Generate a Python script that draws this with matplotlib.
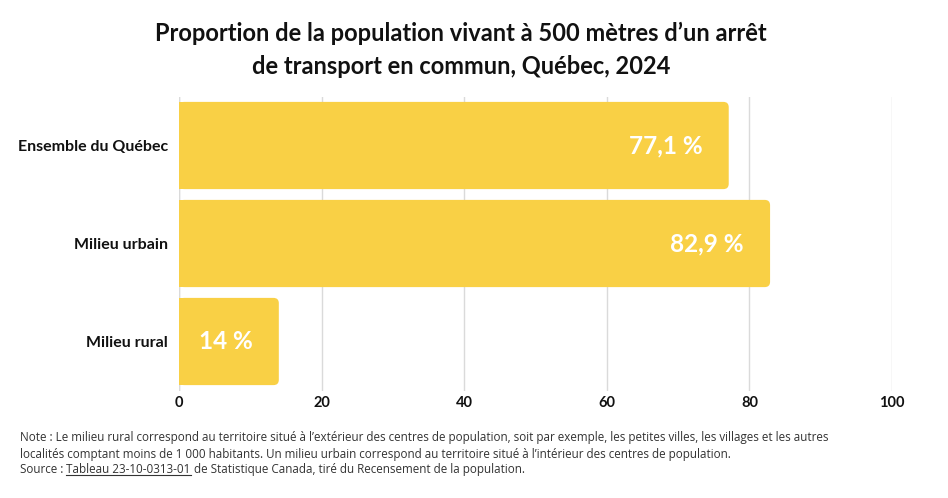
import numpy as np
import matplotlib
matplotlib.use("Agg")
import matplotlib.pyplot as plt
from matplotlib.patches import FancyBboxPatch, Rectangle
from matplotlib.lines import Line2D

categories = ["Ensemble du Québec", "Milieu urbain", "Milieu rural"]
values = [77.1, 82.9, 14.0]
value_labels = ["77,1 %", "82,9 %", "14 %"]
x_ticks = [0, 20, 40, 60, 80, 100]

title = "Proportion de la population vivant à 500 mètres d’un arrêt\nde transport en commun, Québec, 2024"
note_lines = [
    "Note : Le milieu rural correspond au territoire situé à l’extérieur des centres de population, soit par exemple, les petites villes, les villages et les autres",
    "localités comptant moins de 1 000 habitants. Un milieu urbain correspond au territoire situé à l’intérieur des centres de population.",
]
source_pre = "Source : "
source_link = "Tableau 23-10-0313-01"
source_post = " de Statistique Canada, tiré du Recensement de la population."

bar_color = "#F9D045"
grid_color = "#DADADA"
text_color = "#111111"
note_color = "#333333"

fig = plt.figure(figsize=(9.48, 4.98), dpi=100)
ax = fig.add_axes([179 / 948, 1 - 390.5 / 498, (892 - 179) / 948, (390.5 - 96.5) / 498])

y = np.arange(len(categories))
bar_h = 0.89
bars = ax.barh(y, values, height=bar_h, color=bar_color, alpha=0)

# rounded right corners, square left
for b in bars:
    x0, y0, w, h = b.get_x(), b.get_y(), b.get_width(), b.get_height()
    r = 0.75
    ax.add_patch(FancyBboxPatch((x0, y0), w, h,
                                boxstyle=f"round,pad=0,rounding_size={r}",
                                mutation_aspect=0.072, facecolor=bar_color,
                                edgecolor="none", zorder=2))
    ax.add_patch(Rectangle((x0, y0), min(2, w), h, facecolor=bar_color,
                           edgecolor="none", zorder=2))

for i, (v, lab) in enumerate(zip(values, value_labels)):
    ax.text(v - 3.7, y[i], lab, ha="right", va="center", color="white",
            fontsize=17.5, fontweight="bold", family="Lato", zorder=3)

ax.set_xlim(0, 100)
ax.set_ylim(len(categories) - 0.5, -0.5)
ax.set_xticks(x_ticks)
ax.set_yticks(y)
ax.set_yticklabels(categories)
ax.xaxis.grid(True, color=grid_color, linewidth=1)
ax.set_axisbelow(True)
ax.axvline(0, color=grid_color, linewidth=1, zorder=1)
for s in ax.spines.values():
    s.set_visible(False)
ax.tick_params(axis="both", length=0)
ax.tick_params(axis="y", pad=8)
ax.tick_params(axis="x", pad=4)
for t in ax.get_xticklabels() + ax.get_yticklabels():
    t.set_fontweight("bold")
    t.set_family("Lato")
    t.set_color(text_color)
for t in ax.get_yticklabels():
    t.set_fontsize(11.5)
for t in ax.get_xticklabels():
    t.set_fontsize(10.5)

fig.text(461 / 948, 1 - 50 / 498, title, ha="center", va="center",
         fontsize=17, fontweight="bold", family="Lato", color=text_color,
         linespacing=1.55)

note_fs = 8.4
note_y = [438, 454]
for ln, yy in zip(note_lines, note_y):
    fig.text(20 / 948, 1 - yy / 498, ln, ha="left", va="center",
             fontsize=note_fs, family="Open Sans", color=note_color)

# source line with underlined table reference
fig.canvas.draw()
renderer = fig.canvas.get_renderer()
sy = 1 - 469 / 498
t1 = fig.text(20 / 948, sy, source_pre, ha="left", va="center",
              fontsize=note_fs, family="Open Sans", color=note_color)
bb1 = t1.get_window_extent(renderer)
x_link = bb1.x1 / fig.bbox.width
t2 = fig.text(x_link, sy, source_link, ha="left", va="center",
              fontsize=note_fs, family="Open Sans", color=note_color)
bb2 = t2.get_window_extent(renderer)
ul_y = (bb2.y0 + 1) / fig.bbox.height
fig.add_artist(Line2D([bb2.x0 / fig.bbox.width, bb2.x1 / fig.bbox.width], [ul_y, ul_y],
                      color=note_color, linewidth=0.8, transform=fig.transFigure))
fig.text(bb2.x1 / fig.bbox.width, sy, source_post, ha="left", va="center",
         fontsize=note_fs, family="Open Sans", color=note_color)

fig.savefig("out.png", dpi=100)
